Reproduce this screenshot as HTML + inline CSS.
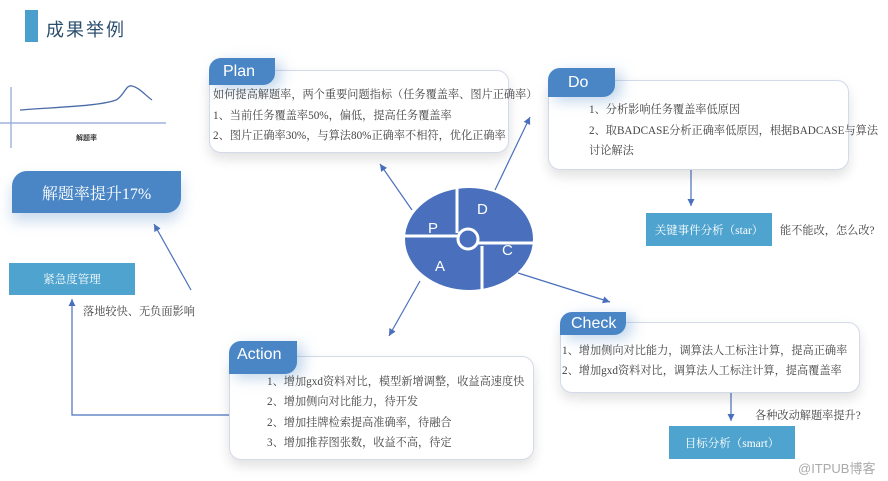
<!DOCTYPE html>
<html><head><meta charset="utf-8"><style>
body{margin:0;width:888px;height:481px;background:#fff;position:relative;overflow:hidden;font-family:"Liberation Serif","Noto Serif CJK SC",serif;}
.a{position:absolute;white-space:nowrap;}
.card{position:absolute;border:1px solid #d3dae8;border-radius:12px;background:#fff;box-shadow:0 6px 12px rgba(0,0,0,0.12);}
.tab{position:absolute;background:#4a86c5;color:#fff;font-family:"Liberation Sans",sans-serif;font-size:16px;border-radius:12px 0 12px 0;padding-left:14px;box-sizing:border-box;box-shadow:6px 4px 14px rgba(74,134,197,0.35);}
.t{position:absolute;font-size:11.2px;color:#444;white-space:nowrap;}
.sb{position:absolute;background:#4fa3cf;color:#fff;font-size:11.5px;display:flex;align-items:center;justify-content:center;}
</style></head><body>
<div class="a" style="left:25px;top:10px;width:13px;height:32px;background:#4a9fcc"></div>
<div class="a" style="left:46px;top:16px;font-size:18px;color:#2d4f6e;font-family:'Liberation Sans','Noto Sans CJK SC',sans-serif;letter-spacing:2px">成果举例</div>

<svg class="a" style="left:0;top:0" width="888" height="481">
<defs><marker id="m" markerWidth="8" markerHeight="8" refX="6" refY="3" orient="auto"><path d="M0,0 L6,3 L0,6 z" fill="#4a70bd"/></marker></defs>
<line x1="11" y1="87" x2="11" y2="148" stroke="#8ea3d6" stroke-width="1.2"/>
<line x1="0" y1="123" x2="166" y2="123" stroke="#8ea3d6" stroke-width="1.2"/>
<path d="M20,110 C60,107 100,106 116,100 C124,96 126,84 132,86 C140,88 146,96 152,100" fill="none" stroke="#4a6aa8" stroke-width="1.3"/>
<text x="76" y="140" font-size="7" font-weight="bold" fill="#333" font-family="Noto Sans CJK SC,sans-serif">解题率</text>
<g stroke="#4a70bd" stroke-width="1.2" fill="none" marker-end="url(#m)">
<line x1="191" y1="290" x2="154" y2="224"/>
<polyline points="230,415 72,415 72,299"/>
<line x1="412" y1="210" x2="380" y2="164"/>
<line x1="495" y1="190" x2="530" y2="117"/>
<line x1="518" y1="273" x2="610" y2="302"/>
<line x1="420" y1="281" x2="389" y2="336"/>
<line x1="691" y1="152" x2="691" y2="206"/>
<line x1="731" y1="382" x2="731" y2="421"/>
</g>
<ellipse cx="469" cy="239" rx="64" ry="51" fill="#4a70bd"/>
<g stroke="#fff" stroke-width="3">
<line x1="457" y1="186" x2="457" y2="233"/>
<line x1="474" y1="243" x2="536" y2="243"/>
<line x1="482" y1="246" x2="482" y2="292"/>
<line x1="403" y1="236" x2="462" y2="236"/>
</g>
<circle cx="468" cy="239" r="10" fill="#4a70bd" stroke="#fff" stroke-width="3"/>
<g fill="#fff" font-family="Liberation Sans,sans-serif" font-size="15">
<text x="428" y="233">P</text><text x="477" y="214">D</text><text x="502" y="255">C</text><text x="435" y="271">A</text>
</g>
</svg>

<div class="a" style="left:12px;top:171px;width:169px;height:42px;background:#4a86c5;border-radius:15px 0 15px 0;color:#fff;font-size:16px;display:flex;align-items:center;justify-content:center;box-shadow:0 8px 14px rgba(74,134,197,0.3)">解题率提升17%</div>
<div class="sb" style="left:9px;top:263px;width:126px;height:32px">紧急度管理</div>
<div class="t" style="left:83px;top:303px">落地较快、无负面影响</div>

<div class="card" style="left:209px;top:70px;width:298px;height:81px"></div>
<div class="tab" style="left:209px;top:58px;width:66px;height:27px;line-height:27px">Plan</div>
<div class="t" style="left:213px;top:86px">如何提高解题率，两个重要问题指标（任务覆盖率、图片正确率）</div>
<div class="t" style="left:213px;top:107px">1、当前任务覆盖率50%，偏低，提高任务覆盖率</div>
<div class="t" style="left:213px;top:127px">2、图片正确率30%，与算法80%正确率不相符，优化正确率</div>

<div class="card" style="left:548px;top:80px;width:299px;height:88px"></div>
<div class="tab" style="left:548px;top:68px;width:67px;height:29px;line-height:29px;padding-left:20px">Do</div>
<div class="t" style="left:589px;top:101px">1、分析影响任务覆盖率低原因</div>
<div class="t" style="left:589px;top:122px">2、取BADCASE分析正确率低原因，根据BADCASE与算法</div>
<div class="t" style="left:589px;top:142px">讨论解法</div>
<div class="sb" style="left:646px;top:213px;width:126px;height:33px">关键事件分析（star）</div>
<div class="t" style="left:780px;top:222px">能不能改，怎么改?</div>

<div class="card" style="left:560px;top:322px;width:298px;height:69px"></div>
<div class="tab" style="left:560px;top:312px;width:66px;height:23px;line-height:23px;padding-left:11px">Check</div>
<div class="t" style="left:562px;top:342px">1、增加侧向对比能力，调算法人工标注计算，提高正确率</div>
<div class="t" style="left:562px;top:362px">2、增加gxd资料对比，调算法人工标注计算，提高覆盖率</div>
<div class="t" style="left:755px;top:407px">各种改动解题率提升?</div>
<div class="sb" style="left:669px;top:426px;width:126px;height:33px">目标分析（smart）</div>

<div class="card" style="left:229px;top:356px;width:303px;height:102px"></div>
<div class="tab" style="left:229px;top:341px;width:68px;height:33px;line-height:28px;padding-left:8px">Action</div>
<div class="t" style="left:267px;top:373px">1、增加gxd资料对比，模型新增调整，收益高速度快</div>
<div class="t" style="left:267px;top:393px">2、增加侧向对比能力，待开发</div>
<div class="t" style="left:267px;top:414px">2、增加挂牌检索提高准确率，待融合</div>
<div class="t" style="left:267px;top:434px">3、增加推荐图张数，收益不高，待定</div>

<div class="a" style="left:798px;top:458px;font-size:13px;color:#aaa;font-family:'Liberation Sans','Noto Sans CJK SC',sans-serif">@ITPUB博客</div>
</body></html>
